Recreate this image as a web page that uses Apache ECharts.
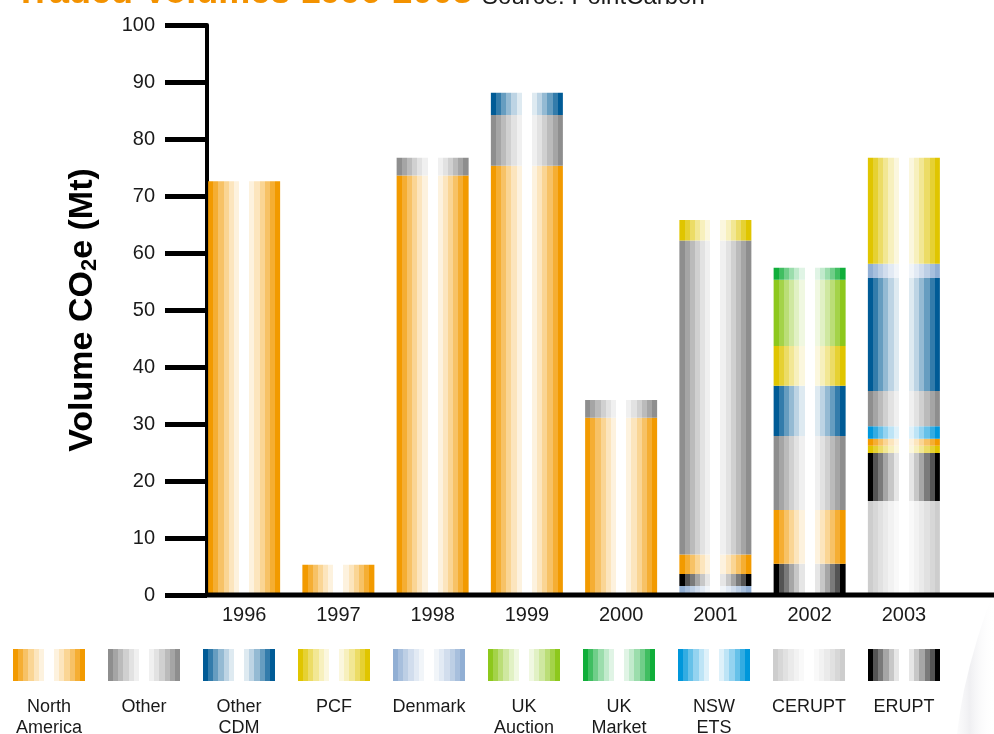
<!DOCTYPE html>
<html>
<head>
<meta charset="utf-8">
<script src="https://cdn.jsdelivr.net/npm/echarts@6/dist/echarts.min.js"></script>
<style>
html,body{margin:0;padding:0;background:#fff;}
#chart{width:994px;height:734px;}
</style>
</head>
<body>
<div id="chart"></div>
<script>
// ---- data (Mt CO2e) ----
const years = ['1996', '1997', '1998', '1999', '2000', '2001', '2002', '2003'];
const denmarkLower = [0, 0, 0, 0, 0, 1.6, 0, 0];
const cerupt       = [0, 0, 0, 0, 0, 0, 0, 16.5];
const erupt        = [0, 0, 0, 0, 0, 2.1, 5.5, 8.4];
const pcfLower     = [0, 0, 0, 0, 0, 0, 0, 1.3];
const northAmerica = [72.6, 5.3, 73.6, 75.3, 31.1, 3.4, 9.4, 1.2];
const nswEts       = [0, 0, 0, 0, 0, 0, 0, 2.2];
const other        = [0, 0, 3.1, 8.9, 3.1, 55.1, 13.0, 6.2];
const otherCdm     = [0, 0, 0, 3.9, 0, 0, 8.8, 19.8];
const denmarkUpper = [0, 0, 0, 0, 0, 0, 0, 2.5];
const pcfUpper     = [0, 0, 0, 0, 0, 3.6, 7.0, 18.6];
const ukAuction    = [0, 0, 0, 0, 0, 0, 11.6, 0];
const ukMarket     = [0, 0, 0, 0, 0, 0, 2.1, 0];
const yTicks = [0, 10, 20, 30, 40, 50, 60, 70, 80, 90, 100];
const legendKeys   = ['na', 'other', 'otherCdm', 'pcf', 'denmark', 'ukAuction', 'ukMarket', 'nsw', 'cerupt', 'erupt'];
const legendLabels = ['North\nAmerica', 'Other', 'Other\nCDM', 'PCF', 'Denmark', 'UK\nAuction', 'UK\nMarket', 'NSW\nETS', 'CERUPT', 'ERUPT'];

// ---- styles ----
const FONT = '"Liberation Sans", Arial, Helvetica, sans-serif';
const baseColors = {
  na: '#F29A00', other: '#8E8E8E', otherCdm: '#005B96', pcf: '#E0C500',
  denmark: '#91AFD4', ukAuction: '#8DC81C', ukMarket: '#10AE3A', nsw: '#0097DB',
  cerupt: '#CDCDCD', erupt: '#000000'
};
const defaultLevels = [0, 0.2, 0.4, 0.58, 0.74, 0.87];
const blackLevels = [0, 0.33, 0.48, 0.65, 0.78, 0.9];

function hexToRgb(h) {
  return [parseInt(h.slice(1, 3), 16), parseInt(h.slice(3, 5), 16), parseInt(h.slice(5, 7), 16)];
}
function mixWhite(rgb, t) {
  return 'rgb(' + rgb.map(c => Math.round(c + (255 - c) * t)).join(',') + ')';
}
function stripeStops(key) {
  const rgb = hexToRgb(baseColors[key]);
  const lv = key === 'erupt' ? blackLevels : defaultLevels;
  const sw = 0.0715;
  const stops = [];
  for (let i = 0; i < lv.length; i++) {
    const c = mixWhite(rgb, lv[i]);
    stops.push({offset: i * sw, color: c}, {offset: (i + 1) * sw, color: c});
  }
  const n = lv.length;
  stops.push({offset: n * sw, color: '#ffffff'}, {offset: 1 - n * sw, color: '#ffffff'});
  for (let i = n - 1; i >= 0; i--) {
    const c = mixWhite(rgb, lv[i]);
    stops.push({offset: 1 - (i + 1) * sw, color: c}, {offset: 1 - i * sw, color: c});
  }
  return stops;
}
function stripeGradient(key) {
  return new echarts.graphic.LinearGradient(0, 0, 1, 0, stripeStops(key));
}

const layers = [
  ['Denmark', 'denmark', denmarkLower],
  ['CERUPT', 'cerupt', cerupt],
  ['ERUPT', 'erupt', erupt],
  ['PCF', 'pcf', pcfLower],
  ['North America', 'na', northAmerica],
  ['NSW ETS', 'nsw', nswEts],
  ['Other', 'other', other],
  ['Other CDM', 'otherCdm', otherCdm],
  ['Denmark', 'denmark', denmarkUpper],
  ['PCF', 'pcf', pcfUpper],
  ['UK Auction', 'ukAuction', ukAuction],
  ['UK Market', 'ukMarket', ukMarket]
];

const series = layers.map(([name, key, data]) => ({
  name: name,
  type: 'bar',
  stack: 'total',
  barWidth: 72,
  data: data,
  itemStyle: {color: stripeGradient(key)},
  emphasis: {disabled: true}
}));

// legend graphics
const legendGraphics = [];
legendKeys.forEach((key, i) => {
  const cx = 49 + i * 95;
  legendGraphics.push({
    type: 'rect',
    shape: {x: cx - 36, y: 649, width: 72, height: 32},
    style: {fill: {type: 'linear', x: 0, y: 0, x2: 1, y2: 0, colorStops: stripeStops(key)}},
    silent: true
  });
  legendGraphics.push({
    type: 'text',
    style: {
      text: legendLabels[i], x: cx, y: 697,
      textAlign: 'center', textVerticalAlign: 'top',
      font: '18px ' + FONT, fill: '#1a1a1a', lineHeight: 21
    },
    silent: true
  });
});

const decoGraphics = [
  {type: 'text', style: {text: 'Traded Volumes 1996-2003', x: 15, y: 11, textAlign: 'left', textVerticalAlign: 'bottom',
    font: 'bold 36px ' + FONT, fill: '#F39200'}},
  {type: 'text', style: {text: 'Source: PointCarbon', x: 482, y: 9, textAlign: 'left', textVerticalAlign: 'bottom',
    font: '24px ' + FONT, fill: '#1a1a1a'}},
  {type: 'polygon', silent: true, z: -1,
    shape: {points: [[994, 590], [985, 615], [977, 640], [970, 665], [964, 690], [960, 712], [957, 734], [994, 734]]},
    style: {fill: {type: 'linear', x: 0, y: 0, x2: 1, y2: 0,
      colorStops: [{offset: 0, color: 'rgba(228,228,233,0.15)'}, {offset: 0.35, color: 'rgba(220,220,226,0.45)'}, {offset: 1, color: 'rgba(255,255,255,0)'}]}}}
];

const chart = echarts.init(document.getElementById('chart'), null, {renderer: 'canvas'});
chart.setOption({
  animation: false,
  backgroundColor: '#ffffff',
  grid: {left: 197, right: 43, top: 25, bottom: 139, containLabel: false},
  xAxis: {
    type: 'category',
    data: years,
    axisLine: {show: false},
    axisTick: {show: false},
    axisLabel: {color: '#1a1a1a', fontSize: 20, fontFamily: FONT, margin: 10}
  },
  yAxis: {
    type: 'value',
    min: yTicks[0], max: yTicks[yTicks.length - 1], interval: 10,
    offset: -10,
    axisLine: {show: true, lineStyle: {color: '#000', width: 4}},
    axisTick: {show: true, length: 42, lineStyle: {color: '#000', width: 5}},
    axisLabel: {color: '#1a1a1a', fontSize: 20, fontFamily: FONT, margin: 52},
    splitLine: {show: false},
    name: '{a|Volume CO}{b|2}{a|e (Mt)}',
    nameLocation: 'middle',
    nameRotate: 90,
    nameGap: 106,
    nameTextStyle: {
      rich: {
        a: {fontSize: 34, fontWeight: 'bold', fontFamily: FONT, color: '#000'},
        b: {fontSize: 22, fontWeight: 'bold', fontFamily: FONT, color: '#000', padding: [14, 0, 0, 0]}
      }
    }
  },
  series: series,
  graphic: decoGraphics.concat(legendGraphics)
});

// extend the baseline across to the right edge
const y0 = chart.convertToPixel({yAxisIndex: 0}, 0);
chart.setOption({
  graphic: decoGraphics.concat(legendGraphics).concat([{
    type: 'line',
    shape: {x1: 205, y1: y0, x2: 994, y2: y0},
    style: {stroke: '#000', lineWidth: 5},
    z: 10, silent: true
  }])
}, {replaceMerge: ['graphic']});
</script>
</body>
</html>
